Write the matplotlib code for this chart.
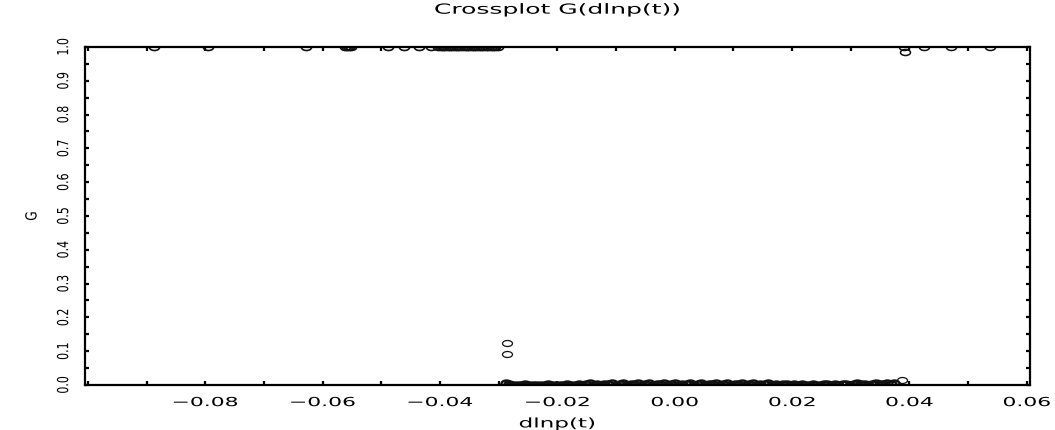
import numpy as np
import matplotlib
matplotlib.use("Agg")
import matplotlib.pyplot as plt
from matplotlib.path import Path
from matplotlib.transforms import Affine2D
from matplotlib.ticker import MultipleLocator, FixedLocator, FixedFormatter
from matplotlib.patheffects import AbstractPathEffect

# ---- data ----
# points with G = 1 (left cluster)
x_top_left = [-0.0888, -0.0795, -0.0629, -0.0562, -0.0558, -0.0555, -0.0551,
              -0.0488, -0.0462, -0.0436, -0.0415,
              -0.0403, -0.0399, -0.0395, -0.0391, -0.0387, -0.0383, -0.0379,
              -0.0375, -0.0371, -0.0367, -0.0362, -0.0358, -0.0354, -0.0350,
              -0.0346, -0.0342, -0.0338, -0.0334, -0.0330, -0.0326, -0.0322,
              -0.0318, -0.0314, -0.0310, -0.0306, -0.0302]
g_top_left = [1.0] * len(x_top_left)

# points with G = 1 (right cluster)
x_top_right = [0.0390, 0.0392, 0.0425, 0.0470, 0.0537]
g_top_right = [1.0, 0.985, 1.0, 1.0, 1.0]

# points with G ~ 0 (dense band)
x_bottom = [
    -0.0287, -0.0283, -0.0279, -0.0274, -0.0268, -0.0262, -0.0255, -0.0249, -0.0242, -0.0236,
    -0.0229, -0.0222, -0.0216, -0.0209, -0.0203, -0.0196, -0.0190, -0.0183, -0.0177, -0.0170,
    -0.0164, -0.0158, -0.0151, -0.0145, -0.0139, -0.0132, -0.0126, -0.0120, -0.0113, -0.0107,
    -0.0101, -0.0094, -0.0088, -0.0082, -0.0075, -0.0069, -0.0063, -0.0056, -0.0050, -0.0044,
    -0.0037, -0.0031, -0.0025, -0.0018, -0.0012, -0.0006, 0.0001, 0.0007, 0.0013, 0.0020,
    0.0026, 0.0032, 0.0039, 0.0045, 0.0051, 0.0058, 0.0064, 0.0070, 0.0077, 0.0083,
    0.0089, 0.0096, 0.0102, 0.0108, 0.0115, 0.0121, 0.0127, 0.0134, 0.0140, 0.0146,
    0.0153, 0.0159, 0.0165, 0.0172, 0.0178, 0.0184, 0.0191, 0.0197, 0.0203, 0.0210,
    0.0216, 0.0222, 0.0229, 0.0235, 0.0241, 0.0248, 0.0254, 0.0260, 0.0267, 0.0273,
    0.0279, 0.0286, 0.0292, 0.0298, 0.0305, 0.0311, 0.0317, 0.0324, 0.0330, 0.0336,
    0.0343, 0.0349, 0.0355, 0.0362, 0.0368, 0.0374]
g_bottom = [
    0.005, 0.002, 0.000, 0.001, 0.000, 0.000, 0.002, 0.000, 0.000, 0.001,
    0.000, 0.000, 0.002, 0.000, 0.000, 0.001, 0.000, 0.003, 0.000, 0.001,
    0.004, 0.000, 0.002, 0.005, 0.001, 0.003, 0.000, 0.004, 0.002, 0.005,
    0.001, 0.003, 0.006, 0.000, 0.004, 0.002, 0.005, 0.001, 0.003, 0.006,
    0.000, 0.004, 0.002, 0.005, 0.001, 0.003, 0.006, 0.000, 0.004, 0.002,
    0.005, 0.001, 0.003, 0.006, 0.000, 0.004, 0.002, 0.005, 0.001, 0.003,
    0.006, 0.000, 0.004, 0.002, 0.005, 0.001, 0.003, 0.006, 0.000, 0.004,
    0.002, 0.005, 0.001, 0.003, 0.000, 0.004, 0.002, 0.001, 0.003, 0.000,
    0.002, 0.001, 0.000, 0.003, 0.001, 0.000, 0.002, 0.004, 0.001, 0.003,
    0.000, 0.002, 0.004, 0.001, 0.003, 0.005, 0.002, 0.004, 0.001, 0.003,
    0.005, 0.002, 0.004, 0.006, 0.003, 0.005]

# isolated points
x_other = [-0.0286, -0.0286, 0.0388]
g_other = [0.125, 0.092, 0.014]

x_ticks = [-0.08, -0.06, -0.04, -0.02, 0.00, 0.02, 0.04, 0.06]
x_ticklabels = ["\u22120.08", "\u22120.06", "\u22120.04", "\u22120.02",
                "0.00", "0.02", "0.04", "0.06"]
y_ticks = [0.0, 0.1, 0.2, 0.3, 0.4, 0.5, 0.6, 0.7, 0.8, 0.9, 1.0]
y_ticklabels = ["0.0", "0.1", "0.2", "0.3", "0.4", "0.5", "0.6", "0.7",
                "0.8", "0.9", "1.0"]


class Stretch(AbstractPathEffect):
    """Scale drawn text about its own centre in display space."""
    def __init__(self, sx=1.0, sy=1.0):
        super().__init__()
        self.sx, self.sy = sx, sy

    def draw_path(self, renderer, gc, tpath, affine, rgbFace=None):
        bb = tpath.get_extents(affine)
        cx = 0.5 * (bb.x0 + bb.x1)
        cy = 0.5 * (bb.y0 + bb.y1)
        t = affine + Affine2D().translate(-cx, -cy).scale(self.sx, self.sy).translate(cx, cy)
        renderer.draw_path(gc, tpath, t, rgbFace)


# ---- figure ----
fig = plt.figure(figsize=(10.55, 4.3), dpi=100)
ax = fig.add_axes([0.0806, 0.1047, 0.8955, 0.786])

ell = Path.unit_circle().transformed(Affine2D().scale(1.0, 0.6))

def draw(xs, gs, mew=1.0, ms=7.2):
    ax.plot(xs, gs, linestyle="none", marker=ell, markersize=ms,
            markerfacecolor="none", markeredgecolor="#111111",
            markeredgewidth=mew, clip_on=True)

draw(x_top_left, g_top_left, mew=1.2)
draw(x_top_right, g_top_right, mew=1.1)
draw(x_bottom, g_bottom, mew=1.7)
draw(x_other, g_other, mew=0.9)

ax.set_xlim(-0.1005, 0.0605)
ax.set_ylim(0.0, 1.0)

ax.xaxis.set_major_locator(FixedLocator(x_ticks))
ax.xaxis.set_major_formatter(FixedFormatter(x_ticklabels))
ax.xaxis.set_minor_locator(MultipleLocator(0.01))
ax.yaxis.set_major_locator(FixedLocator(y_ticks))
ax.yaxis.set_major_formatter(FixedFormatter(y_ticklabels))
ax.yaxis.set_minor_locator(MultipleLocator(0.05))

ax.tick_params(which="both", direction="in", top=True, right=True,
               length=3, width=1.6, color="black")
ax.tick_params(axis="x", labelsize=9, pad=8)
ax.tick_params(axis="y", labelsize=11, pad=10)

for s in ax.spines.values():
    s.set_linewidth(1.6)

title = ax.set_title("Crossplot G(dlnp(t))", fontsize=10, pad=24)
xl = ax.set_xlabel("dlnp(t)", fontsize=9.5, labelpad=6)
yl = ax.set_ylabel("G", fontsize=11, labelpad=12)

fig.canvas.draw()
for lab in ax.get_yticklabels():
    lab.set_rotation(90)
    lab.set_va("center")
    lab.set_path_effects([Stretch(1.0, 0.72)])
for lab in ax.get_xticklabels():
    lab.set_path_effects([Stretch(1.75, 1.0)])
title.set_path_effects([Stretch(1.8, 1.0)])
xl.set_path_effects([Stretch(1.75, 1.0)])
yl.set_path_effects([Stretch(1.0, 0.8)])

fig.savefig("out.png", dpi=100)
